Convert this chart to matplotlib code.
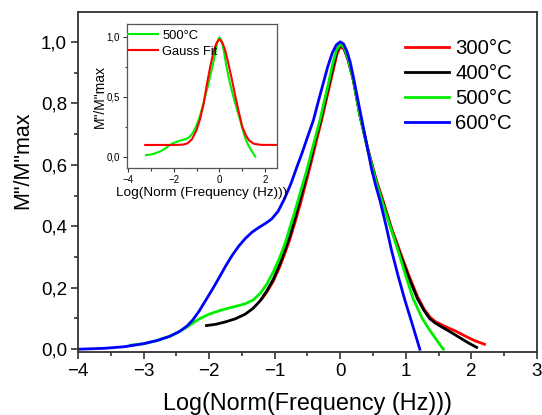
import matplotlib
matplotlib.use('Agg')
import matplotlib.pyplot as plt
from matplotlib.ticker import MultipleLocator, FuncFormatter

plt.rcParams['font.family'] = ['Liberation Sans', 'DejaVu Sans']

# ---- data ----
labels = ['300°C', '400°C', '500°C', '600°C']
colors = ['#ff0000', '#000000', '#00ee00', '#0000ff']

x300 = [-1.2, -1.12, -1.02, -0.92, -0.84, -0.77, -0.69, -0.6, -0.52, -0.43, -0.35, -0.285, -0.22,
        -0.16, -0.1, -0.05, 0.0, 0.06, 0.12, 0.2, 0.3, 0.425, 0.55, 0.66, 0.78, 0.91, 1.05, 1.18,
        1.28, 1.37, 1.45, 1.55, 1.65, 1.75, 1.85, 1.95, 2.05, 2.2]
y300 = [0.163, 0.186, 0.222, 0.27, 0.315, 0.357, 0.413, 0.48, 0.545, 0.62, 0.69, 0.745, 0.805,
        0.86, 0.915, 0.96, 0.985, 0.975, 0.94, 0.875, 0.76, 0.648, 0.55, 0.478, 0.395, 0.318, 0.238, 0.17,
        0.13, 0.104, 0.09, 0.079, 0.069, 0.06, 0.049, 0.038, 0.028, 0.016]

x400 = [-2.04, -1.9, -1.75, -1.6, -1.45, -1.33, -1.22, -1.12, -1.02, -0.92, -0.84, -0.77, -0.69,
        -0.616, -0.54, -0.45, -0.37, -0.3, -0.23, -0.17, -0.11, -0.05, 0.0, 0.06, 0.12, 0.2, 0.3,
        0.425, 0.55, 0.654, 0.78, 0.91, 1.05, 1.18, 1.28, 1.366, 1.45, 1.55, 1.65, 1.75, 1.85, 1.95, 2.08]
y400 = [0.077, 0.081, 0.089, 0.099, 0.114, 0.133, 0.158, 0.19, 0.228, 0.278, 0.325, 0.368, 0.425,
        0.485, 0.545, 0.62, 0.69, 0.745, 0.81, 0.865, 0.92, 0.97, 0.99, 0.978, 0.943, 0.875, 0.76,
        0.645, 0.545, 0.475, 0.39, 0.31, 0.23, 0.163, 0.125, 0.099, 0.085, 0.072, 0.06, 0.047, 0.034, 0.021, 0.006]

x500 = [-3.2, -3.0, -2.8, -2.6, -2.45, -2.34, -2.25, -2.14, -2.0, -1.85, -1.7, -1.55, -1.45, -1.33,
        -1.22, -1.12, -1.02, -0.92, -0.84, -0.77, -0.69, -0.616, -0.51, -0.41, -0.31, -0.24, -0.18,
        -0.12, -0.06, 0.0, 0.06, 0.12, 0.2, 0.3, 0.425, 0.54, 0.64, 0.76, 0.883, 1.0, 1.11, 1.25,
        1.37, 1.47, 1.57]
y500 = [0.013, 0.018, 0.028, 0.042, 0.058, 0.072, 0.085, 0.1, 0.114, 0.125, 0.134, 0.142, 0.148, 0.16,
        0.182, 0.212, 0.252, 0.3, 0.345, 0.395, 0.45, 0.505, 0.583, 0.665, 0.745, 0.81, 0.865,
        0.925, 0.972, 0.993, 0.98, 0.945, 0.875, 0.76, 0.645, 0.55, 0.48, 0.40, 0.32, 0.238, 0.165, 0.1,
        0.06, 0.03, 0.0]

x600 = [-4.0, -3.6, -3.3, -3.0, -2.8, -2.6, -2.45, -2.34, -2.25, -2.15, -2.05, -1.95, -1.85, -1.75,
        -1.65, -1.55, -1.45, -1.35, -1.25, -1.15, -1.05, -0.95, -0.85, -0.75, -0.667, -0.58, -0.5,
        -0.41, -0.33, -0.26, -0.19, -0.12, -0.06, 0.0, 0.05, 0.1, 0.15, 0.2, 0.26, 0.325, 0.4, 0.478,
        0.55, 0.604, 0.7, 0.78, 0.88, 0.985, 1.1, 1.213]
y600 = [0.0, 0.003, 0.008, 0.018, 0.028, 0.042, 0.058, 0.075, 0.095, 0.125, 0.16, 0.195, 0.232, 0.27,
        0.305, 0.335, 0.36, 0.38, 0.395, 0.408, 0.423, 0.448, 0.49, 0.54, 0.59, 0.64, 0.69,
        0.745, 0.81, 0.865, 0.92, 0.965, 0.99, 1.0, 0.993, 0.97, 0.935, 0.885, 0.82, 0.75, 0.67, 0.585,
        0.525, 0.485, 0.40, 0.323, 0.24, 0.16, 0.08, 0.0]

xs = [x300, x400, x500, x600]
ys = [y300, y400, y500, y600]

# Gauss fit in inset
xgauss = [-3.24, -2.0, -1.6, -1.4, -1.2, -1.0, -0.85, -0.7, -0.55, -0.4, -0.25, -0.12, 0.0,
          0.12, 0.25, 0.4, 0.55, 0.7, 0.85, 1.0, 1.15, 1.3, 1.5, 1.8, 2.6]
ygauss = [0.0975, 0.0975, 0.10, 0.11, 0.145, 0.22, 0.31, 0.43, 0.60, 0.75, 0.88, 0.95, 0.978,
          0.955, 0.89, 0.77, 0.64, 0.5, 0.37, 0.25, 0.18, 0.135, 0.108, 0.0985, 0.0975]

comma1 = FuncFormatter(lambda v, p: f"{v:.1f}".replace('.', ','))
spine_col = '#333333'

fig = plt.figure(figsize=(5.42, 4.15), dpi=100)
ax = fig.add_axes([0.14391, 0.15181, 0.84686, 0.81928])

for x, y, c, l in zip(xs, ys, colors, labels):
    ax.plot(x, y, color=c, lw=2.0, label=l, solid_joinstyle='round')

ax.set_xlim(-4, 3)
ax.set_ylim(-0.009, 1.097)
ax.xaxis.set_major_locator(MultipleLocator(1))
ax.xaxis.set_minor_locator(MultipleLocator(0.5))
ax.yaxis.set_major_locator(MultipleLocator(0.2))
ax.yaxis.set_minor_locator(MultipleLocator(0.1))
ax.yaxis.set_major_formatter(comma1)
ax.tick_params(which='both', direction='out', top=False, right=False, color=spine_col, width=1.2)
ax.tick_params(which='major', length=5, labelsize=13.5, pad=3)
ax.tick_params(which='minor', length=3)
for s in ax.spines.values():
    s.set_color(spine_col)
    s.set_linewidth(1.3)

ax.set_xlabel('Log(Norm(Frequency (Hz)))', fontsize=16.8)
ax.xaxis.set_label_coords(0.5, -0.117)
ax.set_ylabel('M"/M"max', fontsize=15.5)
ax.yaxis.set_label_coords(-0.098, 0.565)

leg = ax.legend(loc='upper left', bbox_to_anchor=(405 / 542, 1 - 39 / 415),
                bbox_transform=fig.transFigure, frameon=False, fontsize=14.7,
                handlelength=2.15, handletextpad=0.3, labelspacing=0.3,
                borderpad=0, borderaxespad=0)

# ---- inset ----
axi = fig.add_axes([0.23376, 0.59446, 0.27786, 0.34699])
axi.plot(x500, y500, color='#00ee00', lw=1.5, label='500°C', solid_joinstyle='round')
axi.plot(xgauss, ygauss, color='#ff0000', lw=1.5, label='Gauss Fit', solid_joinstyle='round')
axi.set_xlim(-4.05, 2.53)
axi.set_ylim(-0.097, 1.103)
axi.xaxis.set_major_locator(MultipleLocator(2))
axi.xaxis.set_minor_locator(MultipleLocator(1))
axi.yaxis.set_major_locator(MultipleLocator(0.5))
axi.yaxis.set_minor_locator(MultipleLocator(0.25))
axi.yaxis.set_major_formatter(comma1)
axi.tick_params(which='both', direction='out', top=False, right=False, color=spine_col, width=0.8)
axi.tick_params(which='major', length=3, labelsize=7, pad=2)
axi.tick_params(which='minor', length=1.8)
for s in axi.spines.values():
    s.set_color('#555555')
    s.set_linewidth(0.9)
axi.set_xlabel('Log(Norm (Frequency (Hz)))', fontsize=9.7, labelpad=1)
axi.set_ylabel('M"/M"max', fontsize=10, labelpad=0)
axi.legend(loc='upper left', bbox_to_anchor=(0, 1 - 4 / 144), frameon=False, fontsize=9.3,
           handlelength=2.3, handletextpad=0.35, labelspacing=0.3, borderpad=0.1, borderaxespad=0)

fig.savefig('out.png', dpi=100)
